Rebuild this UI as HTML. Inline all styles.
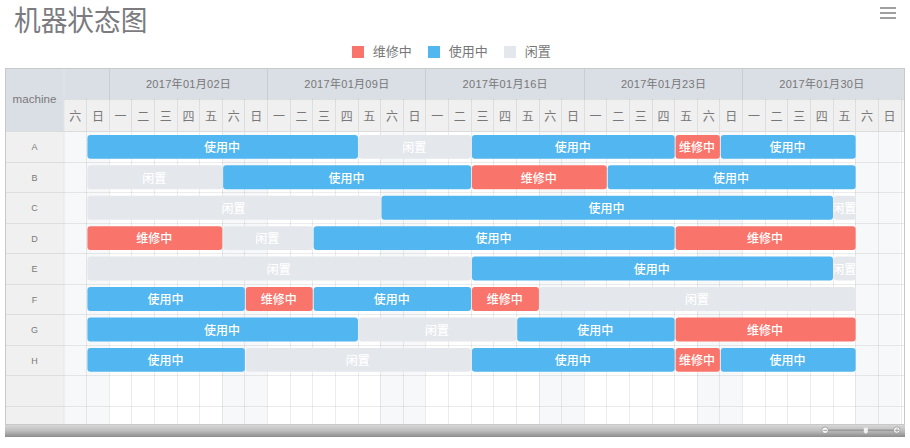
<!DOCTYPE html>
<html><head><meta charset="utf-8">
<style>
html,body{margin:0;padding:0;background:#fff;}
body{width:910px;height:448px;overflow:hidden;position:relative;font-family:"Liberation Sans","Noto Sans CJK SC",sans-serif;}
.title{position:absolute;left:14px;top:3px;font-size:26.7px;line-height:36px;transform:scaleY(1.05);transform-origin:0 0;color:#7b7b80;font-family:"Liberation Sans","Noto Sans CJK SC",sans-serif;letter-spacing:0px;white-space:nowrap;}
.menu{position:absolute;left:880px;width:16px;height:2px;background:#a0a0a0;}
.lg{position:absolute;top:46px;width:12px;height:12px;}
.lt{position:absolute;top:42px;font-size:13px;line-height:20px;color:#777;white-space:nowrap;}
svg{position:absolute;left:0;top:0;}
svg text{font-family:"Liberation Sans","Noto Sans CJK SC",sans-serif;}
.t1{font-size:11px;fill:#777;letter-spacing:0.3px;}
.t2{font-size:12px;fill:#787878;}
.tm{font-size:11.6px;fill:#7a7a7a;}
.tr{font-size:9px;fill:#7a7a7a;}
.tb{font-size:12px;fill:#fff;font-weight:500;}
</style></head><body>
<div class="title">机器状态图</div>
<div class="menu" style="top:7px"></div>
<div class="menu" style="top:12px"></div>
<div class="menu" style="top:17px"></div>
<div class="lg" style="left:352.4px;background:#f9756c"></div>
<div class="lt" style="left:372.7px">维修中</div>
<div class="lg" style="left:428.4px;background:#52b6f0"></div>
<div class="lt" style="left:448.7px">使用中</div>
<div class="lg" style="left:504.4px;background:#e4e7ec"></div>
<div class="lt" style="left:524.7px">闲置</div>
<svg width="910" height="448" viewBox="0 0 910 448">
<rect x="6" y="69" width="58" height="62" fill="#dadee5"/>
<rect x="6" y="131" width="58" height="293.5" fill="#f0f0f0"/>
<rect x="64" y="69" width="840" height="30" fill="#dadee5"/>
<rect x="64" y="99" width="840" height="32" fill="#f0f0f0"/>
<rect x="64" y="131" width="840" height="293.5" fill="#fff"/>
<rect x="64" y="131" width="22" height="293.5" fill="#f7f8fa"/>
<rect x="86" y="131" width="23" height="293.5" fill="#f7f8fa"/>
<rect x="222" y="131" width="22" height="293.5" fill="#f7f8fa"/>
<rect x="244" y="131" width="23" height="293.5" fill="#f7f8fa"/>
<rect x="380" y="131" width="23" height="293.5" fill="#f7f8fa"/>
<rect x="403" y="131" width="22" height="293.5" fill="#f7f8fa"/>
<rect x="539" y="131" width="22" height="293.5" fill="#f7f8fa"/>
<rect x="561" y="131" width="23" height="293.5" fill="#f7f8fa"/>
<rect x="697" y="131" width="22" height="293.5" fill="#f7f8fa"/>
<rect x="719" y="131" width="23" height="293.5" fill="#f7f8fa"/>
<rect x="855" y="131" width="23" height="293.5" fill="#f7f8fa"/>
<rect x="878" y="131" width="22" height="293.5" fill="#f7f8fa"/>
<rect x="86" y="99" width="1" height="325.5" fill="rgba(0,0,0,0.075)"/>
<rect x="109" y="69" width="1" height="355.5" fill="rgba(0,0,0,0.075)"/>
<rect x="131" y="99" width="1" height="325.5" fill="rgba(0,0,0,0.075)"/>
<rect x="154" y="99" width="1" height="325.5" fill="rgba(0,0,0,0.075)"/>
<rect x="177" y="99" width="1" height="325.5" fill="rgba(0,0,0,0.075)"/>
<rect x="199" y="99" width="1" height="325.5" fill="rgba(0,0,0,0.075)"/>
<rect x="222" y="99" width="1" height="325.5" fill="rgba(0,0,0,0.075)"/>
<rect x="244" y="99" width="1" height="325.5" fill="rgba(0,0,0,0.075)"/>
<rect x="267" y="69" width="1" height="355.5" fill="rgba(0,0,0,0.075)"/>
<rect x="290" y="99" width="1" height="325.5" fill="rgba(0,0,0,0.075)"/>
<rect x="312" y="99" width="1" height="325.5" fill="rgba(0,0,0,0.075)"/>
<rect x="335" y="99" width="1" height="325.5" fill="rgba(0,0,0,0.075)"/>
<rect x="358" y="99" width="1" height="325.5" fill="rgba(0,0,0,0.075)"/>
<rect x="380" y="99" width="1" height="325.5" fill="rgba(0,0,0,0.075)"/>
<rect x="403" y="99" width="1" height="325.5" fill="rgba(0,0,0,0.075)"/>
<rect x="425" y="69" width="1" height="355.5" fill="rgba(0,0,0,0.075)"/>
<rect x="448" y="99" width="1" height="325.5" fill="rgba(0,0,0,0.075)"/>
<rect x="471" y="99" width="1" height="325.5" fill="rgba(0,0,0,0.075)"/>
<rect x="493" y="99" width="1" height="325.5" fill="rgba(0,0,0,0.075)"/>
<rect x="516" y="99" width="1" height="325.5" fill="rgba(0,0,0,0.075)"/>
<rect x="539" y="99" width="1" height="325.5" fill="rgba(0,0,0,0.075)"/>
<rect x="561" y="99" width="1" height="325.5" fill="rgba(0,0,0,0.075)"/>
<rect x="584" y="69" width="1" height="355.5" fill="rgba(0,0,0,0.075)"/>
<rect x="606" y="99" width="1" height="325.5" fill="rgba(0,0,0,0.075)"/>
<rect x="629" y="99" width="1" height="325.5" fill="rgba(0,0,0,0.075)"/>
<rect x="652" y="99" width="1" height="325.5" fill="rgba(0,0,0,0.075)"/>
<rect x="674" y="99" width="1" height="325.5" fill="rgba(0,0,0,0.075)"/>
<rect x="697" y="99" width="1" height="325.5" fill="rgba(0,0,0,0.075)"/>
<rect x="719" y="99" width="1" height="325.5" fill="rgba(0,0,0,0.075)"/>
<rect x="742" y="69" width="1" height="355.5" fill="rgba(0,0,0,0.075)"/>
<rect x="765" y="99" width="1" height="325.5" fill="rgba(0,0,0,0.075)"/>
<rect x="787" y="99" width="1" height="325.5" fill="rgba(0,0,0,0.075)"/>
<rect x="810" y="99" width="1" height="325.5" fill="rgba(0,0,0,0.075)"/>
<rect x="833" y="99" width="1" height="325.5" fill="rgba(0,0,0,0.075)"/>
<rect x="855" y="99" width="1" height="325.5" fill="rgba(0,0,0,0.075)"/>
<rect x="878" y="99" width="1" height="325.5" fill="rgba(0,0,0,0.075)"/>
<rect x="901" y="99" width="1" height="325.5" fill="rgba(0,0,0,0.075)"/>
<rect x="63.5" y="69" width="1" height="62" fill="#e2e4e8" shape-rendering="auto"/>
<rect x="63.5" y="131" width="1" height="293.5" fill="#e6e6e6" shape-rendering="auto"/>
<rect x="64" y="99" width="840" height="1" fill="rgba(0,0,0,0.075)"/>
<rect x="6" y="131" width="898" height="1" fill="#dcdcdc"/>
<rect x="6" y="162" width="898" height="1" fill="rgba(0,0,0,0.075)"/>
<rect x="6" y="192" width="898" height="1" fill="rgba(0,0,0,0.075)"/>
<rect x="6" y="223" width="898" height="1" fill="rgba(0,0,0,0.075)"/>
<rect x="6" y="253" width="898" height="1" fill="rgba(0,0,0,0.075)"/>
<rect x="6" y="284" width="898" height="1" fill="rgba(0,0,0,0.075)"/>
<rect x="6" y="314" width="898" height="1" fill="rgba(0,0,0,0.075)"/>
<rect x="6" y="345" width="898" height="1" fill="rgba(0,0,0,0.075)"/>
<rect x="6" y="375" width="898" height="1" fill="rgba(0,0,0,0.075)"/>
<rect x="6" y="406" width="898" height="1" fill="rgba(0,0,0,0.075)"/>
<rect x="5" y="68" width="1" height="356.5" fill="#c9c9c9"/>
<rect x="5" y="68" width="900" height="1" fill="#c9c9c9"/>
<rect x="904" y="68" width="1" height="356.5" fill="#c9c9c9"/>
<text x="188.56" y="87.8" class="t1" text-anchor="middle">2017年01月02日</text>
<text x="346.90" y="87.8" class="t1" text-anchor="middle">2017年01月09日</text>
<text x="505.24" y="87.8" class="t1" text-anchor="middle">2017年01月16日</text>
<text x="663.58" y="87.8" class="t1" text-anchor="middle">2017年01月23日</text>
<text x="821.92" y="87.8" class="t1" text-anchor="middle">2017年01月30日</text>
<text x="75.31" y="121.2" class="t2" text-anchor="middle">六</text>
<text x="97.93" y="121.2" class="t2" text-anchor="middle">日</text>
<text x="120.55" y="121.2" class="t2" text-anchor="middle">一</text>
<text x="143.17" y="121.2" class="t2" text-anchor="middle">二</text>
<text x="165.79" y="121.2" class="t2" text-anchor="middle">三</text>
<text x="188.41" y="121.2" class="t2" text-anchor="middle">四</text>
<text x="211.03" y="121.2" class="t2" text-anchor="middle">五</text>
<text x="233.65" y="121.2" class="t2" text-anchor="middle">六</text>
<text x="256.27" y="121.2" class="t2" text-anchor="middle">日</text>
<text x="278.89" y="121.2" class="t2" text-anchor="middle">一</text>
<text x="301.51" y="121.2" class="t2" text-anchor="middle">二</text>
<text x="324.13" y="121.2" class="t2" text-anchor="middle">三</text>
<text x="346.75" y="121.2" class="t2" text-anchor="middle">四</text>
<text x="369.37" y="121.2" class="t2" text-anchor="middle">五</text>
<text x="391.99" y="121.2" class="t2" text-anchor="middle">六</text>
<text x="414.61" y="121.2" class="t2" text-anchor="middle">日</text>
<text x="437.23" y="121.2" class="t2" text-anchor="middle">一</text>
<text x="459.85" y="121.2" class="t2" text-anchor="middle">二</text>
<text x="482.47" y="121.2" class="t2" text-anchor="middle">三</text>
<text x="505.09" y="121.2" class="t2" text-anchor="middle">四</text>
<text x="527.71" y="121.2" class="t2" text-anchor="middle">五</text>
<text x="550.33" y="121.2" class="t2" text-anchor="middle">六</text>
<text x="572.95" y="121.2" class="t2" text-anchor="middle">日</text>
<text x="595.57" y="121.2" class="t2" text-anchor="middle">一</text>
<text x="618.19" y="121.2" class="t2" text-anchor="middle">二</text>
<text x="640.81" y="121.2" class="t2" text-anchor="middle">三</text>
<text x="663.43" y="121.2" class="t2" text-anchor="middle">四</text>
<text x="686.05" y="121.2" class="t2" text-anchor="middle">五</text>
<text x="708.67" y="121.2" class="t2" text-anchor="middle">六</text>
<text x="731.29" y="121.2" class="t2" text-anchor="middle">日</text>
<text x="753.91" y="121.2" class="t2" text-anchor="middle">一</text>
<text x="776.53" y="121.2" class="t2" text-anchor="middle">二</text>
<text x="799.15" y="121.2" class="t2" text-anchor="middle">三</text>
<text x="821.77" y="121.2" class="t2" text-anchor="middle">四</text>
<text x="844.39" y="121.2" class="t2" text-anchor="middle">五</text>
<text x="867.01" y="121.2" class="t2" text-anchor="middle">六</text>
<text x="889.63" y="121.2" class="t2" text-anchor="middle">日</text>
<text x="34.5" y="103.3" class="tm" text-anchor="middle">machine</text>
<text x="34.5" y="150.30" class="tr" text-anchor="middle">A</text>
<rect x="87.42" y="134.90" width="270.54" height="23.9" rx="3" fill="#52b6f0"/>
<clipPath id="c0_1"><rect x="87.42" y="134.90" width="270.54" height="23.9"/></clipPath>
<text x="222.09" y="152.20" class="tb" text-anchor="middle" clip-path="url(#c0_1)">使用中</text>
<rect x="358.86" y="134.90" width="112.20" height="23.9" rx="3" fill="#e4e7ec"/>
<clipPath id="c0_13"><rect x="358.86" y="134.90" width="112.20" height="23.9"/></clipPath>
<text x="414.36" y="152.20" class="tb" text-anchor="middle" clip-path="url(#c0_13)">闲置</text>
<rect x="471.96" y="134.90" width="202.68" height="23.9" rx="3" fill="#52b6f0"/>
<clipPath id="c0_18"><rect x="471.96" y="134.90" width="202.68" height="23.9"/></clipPath>
<text x="572.70" y="152.20" class="tb" text-anchor="middle" clip-path="url(#c0_18)">使用中</text>
<rect x="675.54" y="134.90" width="44.34" height="23.9" rx="3" fill="#f9756c"/>
<clipPath id="c0_27"><rect x="675.54" y="134.90" width="44.34" height="23.9"/></clipPath>
<text x="697.11" y="152.20" class="tb" text-anchor="middle" clip-path="url(#c0_27)">维修中</text>
<rect x="720.78" y="134.90" width="134.82" height="23.9" rx="3" fill="#52b6f0"/>
<clipPath id="c0_29"><rect x="720.78" y="134.90" width="134.82" height="23.9"/></clipPath>
<text x="787.59" y="152.20" class="tb" text-anchor="middle" clip-path="url(#c0_29)">使用中</text>
<text x="34.5" y="180.80" class="tr" text-anchor="middle">B</text>
<rect x="87.42" y="165.33" width="134.82" height="23.9" rx="3" fill="#e4e7ec"/>
<clipPath id="c1_1"><rect x="87.42" y="165.33" width="134.82" height="23.9"/></clipPath>
<text x="154.23" y="182.63" class="tb" text-anchor="middle" clip-path="url(#c1_1)">闲置</text>
<rect x="223.14" y="165.33" width="247.92" height="23.9" rx="3" fill="#52b6f0"/>
<clipPath id="c1_7"><rect x="223.14" y="165.33" width="247.92" height="23.9"/></clipPath>
<text x="346.50" y="182.63" class="tb" text-anchor="middle" clip-path="url(#c1_7)">使用中</text>
<rect x="471.96" y="165.33" width="134.82" height="23.9" rx="3" fill="#f9756c"/>
<clipPath id="c1_18"><rect x="471.96" y="165.33" width="134.82" height="23.9"/></clipPath>
<text x="538.77" y="182.63" class="tb" text-anchor="middle" clip-path="url(#c1_18)">维修中</text>
<rect x="607.68" y="165.33" width="247.92" height="23.9" rx="3" fill="#52b6f0"/>
<clipPath id="c1_24"><rect x="607.68" y="165.33" width="247.92" height="23.9"/></clipPath>
<text x="731.04" y="182.63" class="tb" text-anchor="middle" clip-path="url(#c1_24)">使用中</text>
<text x="34.5" y="211.30" class="tr" text-anchor="middle">C</text>
<rect x="87.42" y="195.76" width="293.16" height="23.9" rx="3" fill="#e4e7ec"/>
<clipPath id="c2_1"><rect x="87.42" y="195.76" width="293.16" height="23.9"/></clipPath>
<text x="233.40" y="213.06" class="tb" text-anchor="middle" clip-path="url(#c2_1)">闲置</text>
<rect x="381.48" y="195.76" width="451.50" height="23.9" rx="3" fill="#52b6f0"/>
<clipPath id="c2_14"><rect x="381.48" y="195.76" width="451.50" height="23.9"/></clipPath>
<text x="606.63" y="213.06" class="tb" text-anchor="middle" clip-path="url(#c2_14)">使用中</text>
<rect x="833.88" y="195.76" width="21.72" height="23.9" rx="3" fill="#e4e7ec"/>
<clipPath id="c2_34"><rect x="833.88" y="195.76" width="21.72" height="23.9"/></clipPath>
<text x="844.14" y="213.06" class="tb" text-anchor="middle" clip-path="url(#c2_34)">闲置</text>
<text x="34.5" y="241.80" class="tr" text-anchor="middle">D</text>
<rect x="87.42" y="226.19" width="134.82" height="23.9" rx="3" fill="#f9756c"/>
<clipPath id="c3_1"><rect x="87.42" y="226.19" width="134.82" height="23.9"/></clipPath>
<text x="154.23" y="243.49" class="tb" text-anchor="middle" clip-path="url(#c3_1)">维修中</text>
<rect x="223.14" y="226.19" width="89.58" height="23.9" rx="3" fill="#e4e7ec"/>
<clipPath id="c3_7"><rect x="223.14" y="226.19" width="89.58" height="23.9"/></clipPath>
<text x="267.33" y="243.49" class="tb" text-anchor="middle" clip-path="url(#c3_7)">闲置</text>
<rect x="313.62" y="226.19" width="361.02" height="23.9" rx="3" fill="#52b6f0"/>
<clipPath id="c3_11"><rect x="313.62" y="226.19" width="361.02" height="23.9"/></clipPath>
<text x="493.53" y="243.49" class="tb" text-anchor="middle" clip-path="url(#c3_11)">使用中</text>
<rect x="675.54" y="226.19" width="180.06" height="23.9" rx="3" fill="#f9756c"/>
<clipPath id="c3_27"><rect x="675.54" y="226.19" width="180.06" height="23.9"/></clipPath>
<text x="764.97" y="243.49" class="tb" text-anchor="middle" clip-path="url(#c3_27)">维修中</text>
<text x="34.5" y="272.30" class="tr" text-anchor="middle">E</text>
<rect x="87.42" y="256.62" width="383.64" height="23.9" rx="3" fill="#e4e7ec"/>
<clipPath id="c4_1"><rect x="87.42" y="256.62" width="383.64" height="23.9"/></clipPath>
<text x="278.64" y="273.92" class="tb" text-anchor="middle" clip-path="url(#c4_1)">闲置</text>
<rect x="471.96" y="256.62" width="361.02" height="23.9" rx="3" fill="#52b6f0"/>
<clipPath id="c4_18"><rect x="471.96" y="256.62" width="361.02" height="23.9"/></clipPath>
<text x="651.87" y="273.92" class="tb" text-anchor="middle" clip-path="url(#c4_18)">使用中</text>
<rect x="833.88" y="256.62" width="21.72" height="23.9" rx="3" fill="#e4e7ec"/>
<clipPath id="c4_34"><rect x="833.88" y="256.62" width="21.72" height="23.9"/></clipPath>
<text x="844.14" y="273.92" class="tb" text-anchor="middle" clip-path="url(#c4_34)">闲置</text>
<text x="34.5" y="302.80" class="tr" text-anchor="middle">F</text>
<rect x="87.42" y="287.05" width="157.44" height="23.9" rx="3" fill="#52b6f0"/>
<clipPath id="c5_1"><rect x="87.42" y="287.05" width="157.44" height="23.9"/></clipPath>
<text x="165.54" y="304.35" class="tb" text-anchor="middle" clip-path="url(#c5_1)">使用中</text>
<rect x="245.76" y="287.05" width="66.96" height="23.9" rx="3" fill="#f9756c"/>
<clipPath id="c5_8"><rect x="245.76" y="287.05" width="66.96" height="23.9"/></clipPath>
<text x="278.64" y="304.35" class="tb" text-anchor="middle" clip-path="url(#c5_8)">维修中</text>
<rect x="313.62" y="287.05" width="157.44" height="23.9" rx="3" fill="#52b6f0"/>
<clipPath id="c5_11"><rect x="313.62" y="287.05" width="157.44" height="23.9"/></clipPath>
<text x="391.74" y="304.35" class="tb" text-anchor="middle" clip-path="url(#c5_11)">使用中</text>
<rect x="471.96" y="287.05" width="66.96" height="23.9" rx="3" fill="#f9756c"/>
<clipPath id="c5_18"><rect x="471.96" y="287.05" width="66.96" height="23.9"/></clipPath>
<text x="504.84" y="304.35" class="tb" text-anchor="middle" clip-path="url(#c5_18)">维修中</text>
<rect x="539.82" y="287.05" width="315.78" height="23.9" rx="3" fill="#e4e7ec"/>
<clipPath id="c5_21"><rect x="539.82" y="287.05" width="315.78" height="23.9"/></clipPath>
<text x="697.11" y="304.35" class="tb" text-anchor="middle" clip-path="url(#c5_21)">闲置</text>
<text x="34.5" y="333.30" class="tr" text-anchor="middle">G</text>
<rect x="87.42" y="317.48" width="270.54" height="23.9" rx="3" fill="#52b6f0"/>
<clipPath id="c6_1"><rect x="87.42" y="317.48" width="270.54" height="23.9"/></clipPath>
<text x="222.09" y="334.78" class="tb" text-anchor="middle" clip-path="url(#c6_1)">使用中</text>
<rect x="358.86" y="317.48" width="157.44" height="23.9" rx="3" fill="#e4e7ec"/>
<clipPath id="c6_13"><rect x="358.86" y="317.48" width="157.44" height="23.9"/></clipPath>
<text x="436.98" y="334.78" class="tb" text-anchor="middle" clip-path="url(#c6_13)">闲置</text>
<rect x="517.20" y="317.48" width="157.44" height="23.9" rx="3" fill="#52b6f0"/>
<clipPath id="c6_20"><rect x="517.20" y="317.48" width="157.44" height="23.9"/></clipPath>
<text x="595.32" y="334.78" class="tb" text-anchor="middle" clip-path="url(#c6_20)">使用中</text>
<rect x="675.54" y="317.48" width="180.06" height="23.9" rx="3" fill="#f9756c"/>
<clipPath id="c6_27"><rect x="675.54" y="317.48" width="180.06" height="23.9"/></clipPath>
<text x="764.97" y="334.78" class="tb" text-anchor="middle" clip-path="url(#c6_27)">维修中</text>
<text x="34.5" y="363.80" class="tr" text-anchor="middle">H</text>
<rect x="87.42" y="347.91" width="157.44" height="23.9" rx="3" fill="#52b6f0"/>
<clipPath id="c7_1"><rect x="87.42" y="347.91" width="157.44" height="23.9"/></clipPath>
<text x="165.54" y="365.21" class="tb" text-anchor="middle" clip-path="url(#c7_1)">使用中</text>
<rect x="245.76" y="347.91" width="225.30" height="23.9" rx="3" fill="#e4e7ec"/>
<clipPath id="c7_8"><rect x="245.76" y="347.91" width="225.30" height="23.9"/></clipPath>
<text x="357.81" y="365.21" class="tb" text-anchor="middle" clip-path="url(#c7_8)">闲置</text>
<rect x="471.96" y="347.91" width="202.68" height="23.9" rx="3" fill="#52b6f0"/>
<clipPath id="c7_18"><rect x="471.96" y="347.91" width="202.68" height="23.9"/></clipPath>
<text x="572.70" y="365.21" class="tb" text-anchor="middle" clip-path="url(#c7_18)">使用中</text>
<rect x="675.54" y="347.91" width="44.34" height="23.9" rx="3" fill="#f9756c"/>
<clipPath id="c7_27"><rect x="675.54" y="347.91" width="44.34" height="23.9"/></clipPath>
<text x="697.11" y="365.21" class="tb" text-anchor="middle" clip-path="url(#c7_27)">维修中</text>
<rect x="720.78" y="347.91" width="134.82" height="23.9" rx="3" fill="#52b6f0"/>
<clipPath id="c7_29"><rect x="720.78" y="347.91" width="134.82" height="23.9"/></clipPath>
<text x="787.59" y="365.21" class="tb" text-anchor="middle" clip-path="url(#c7_29)">使用中</text>
<defs><linearGradient id="bg" x1="0" y1="0" x2="0" y2="1"><stop offset="0" stop-color="#dadada"/><stop offset="0.5" stop-color="#bdbdbd"/><stop offset="1" stop-color="#8c8c8c"/></linearGradient></defs>
<rect x="5" y="424.5" width="900" height="12.5" fill="url(#bg)"/>
<rect x="5" y="424.0" width="900" height="1" fill="#c8c8c8"/>
<rect x="826" y="429.5" width="70" height="1.6" fill="#9a9a9a"/>
<circle cx="825.1" cy="430.25" r="3.3" fill="#f7f7f7" stroke="#8a8a8a" stroke-width="0.7"/>
<rect x="823.2" y="429.9" width="4" height="0.9" fill="#999"/>
<circle cx="896.8" cy="430.1" r="3.3" fill="#f7f7f7" stroke="#8a8a8a" stroke-width="0.7"/>
<rect x="895" y="429.9" width="4" height="0.9" fill="#999"/>
<rect x="896.55" y="428.3" width="0.9" height="4" fill="#999"/>
<path d="M863.8 427.8 H867.8 V432.2 L865.8 433.8 L863.8 432.2 Z" fill="#f2f2f2"/>
</svg>
</body></html>
